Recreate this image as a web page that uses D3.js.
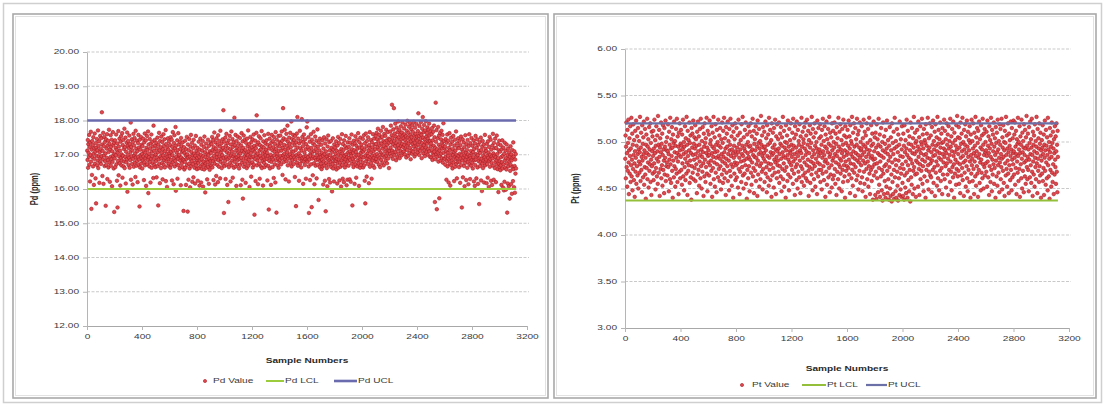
<!DOCTYPE html>
<html>
<head>
<meta charset="utf-8">
<script src="https://cdn.jsdelivr.net/npm/d3@7"></script>
<style>
  html, body { margin: 0; padding: 0; background: #ffffff; }
  svg { display: block; }
  text { font-family: "Liberation Sans", Arial, sans-serif; }
</style>
</head>
<body>
<svg id="chart" width="1105" height="407"></svg>
<script>
// ---- data -------------------------------------------------------------
const sampleTicks = [0, 400, 800, 1200, 1600, 2000, 2400, 2800, 3200];
const pdTicks = [12, 13, 14, 15, 16, 17, 18, 19, 20];
const ptTicks = [3.0, 3.5, 4.0, 4.5, 5.0, 5.5, 6.0];
const sampleStep = 2;          // every second sample number is plotted
const pdLCL = 16.00, pdUCL = 18.00;
const ptLCL = 4.37, ptUCL = 5.20;
const pdSeriesNames = ["Pd Value", "Pd LCL", "Pd UCL"];
const ptSeriesNames = ["Pt Value", "Pt LCL", "Pt UCL"];

// Pd assay results (ppm), one row per 100 sample numbers
const pdValues = [
17.12,16.85,17.43,16.62,17.31,17.05,16.94,17.58,16.71,17.22,16.22,17.36,16.99,17.67,16.80,15.42,17.15,16.41,17.40,16.92,17.28,16.66,17.51,17.03,16.12,17.19,16.88,17.62,16.74,17.09,16.31,17.34,15.58,17.21,16.97,17.46,16.69,17.13,16.83,17.71,16.61,17.26,16.95,17.39,16.18,17.07,16.78,17.55,16.90,17.17,
16.73,17.48,16.96,18.24,17.30,16.38,17.11,16.86,17.64,16.15,17.25,16.98,17.52,16.67,17.37,16.81,17.04,15.51,17.45,16.70,17.18,16.91,17.60,16.29,17.27,16.84,17.41,16.63,17.08,17.73,16.77,17.32,16.21,17.16,16.93,17.57,16.68,17.23,16.87,17.44,16.08,17.10,16.79,17.66,16.97,17.29,16.60,17.35,15.33,17.02,
16.89,17.42,16.64,17.20,16.99,17.59,16.72,17.14,16.24,17.33,15.46,17.06,16.82,17.69,16.40,17.24,16.95,17.47,16.75,17.12,16.10,17.38,16.90,17.54,16.69,17.01,16.83,17.63,16.33,17.28,16.97,17.43,16.66,17.17,16.80,17.76,16.61,17.22,16.93,17.50,16.16,17.09,16.78,17.35,16.87,17.65,15.92,17.26,17.00,17.40,
16.70,17.19,16.91,17.56,16.62,17.31,16.84,17.08,17.94,16.27,17.23,16.96,17.45,16.73,17.13,16.13,17.37,16.88,17.61,16.65,17.27,16.98,17.49,16.77,17.04,16.35,17.70,16.92,17.18,16.68,17.41,16.82,17.10,16.20,17.34,16.94,17.58,16.71,17.21,16.86,15.49,17.44,16.63,17.15,16.99,17.52,16.74,17.29,16.89,17.02,
16.60,17.25,16.83,17.47,16.95,17.11,16.26,17.36,16.78,17.62,16.69,17.06,16.90,17.42,16.09,17.20,16.97,17.55,16.72,17.14,16.85,17.68,15.88,17.30,16.93,17.03,16.66,17.46,16.79,17.19,16.19,17.33,16.88,17.59,16.62,17.09,16.96,17.38,16.75,17.24,16.32,17.85,16.87,17.12,16.70,17.43,16.99,17.27,16.64,17.01,
16.81,17.35,16.34,17.18,16.92,17.50,16.67,17.07,15.52,17.29,16.86,17.64,16.73,17.13,16.17,17.40,16.95,17.22,16.61,17.53,16.89,17.05,16.76,17.37,16.28,17.16,16.98,17.60,16.70,17.26,16.84,17.45,16.63,17.10,16.91,17.72,16.23,17.31,16.80,17.02,16.06,17.20,16.94,17.48,16.68,17.15,16.87,17.39,16.74,17.04,
16.96,17.28,16.62,17.51,16.85,17.09,16.71,17.44,16.25,17.23,16.99,17.66,16.78,17.12,16.14,17.34,16.90,17.57,16.66,17.19,16.82,17.81,15.95,17.27,16.94,17.06,16.72,17.42,16.30,17.14,16.88,17.63,16.69,17.30,16.97,17.00,16.60,17.38,16.83,17.17,16.11,17.49,16.92,17.25,16.75,17.08,16.64,17.36,16.87,17.11,
15.36,16.84,17.22,16.57,17.05,16.79,17.41,16.63,16.98,16.12,17.16,16.88,17.52,16.70,17.01,15.34,17.30,16.92,16.27,17.13,16.74,17.46,16.60,16.95,16.05,17.24,16.86,17.58,16.67,17.08,16.81,17.35,16.21,16.99,16.73,17.19,16.34,17.44,16.90,17.03,16.62,17.27,16.16,16.97,16.78,17.55,16.69,17.11,16.85,16.58,
16.91,17.20,16.24,17.04,16.76,17.38,16.61,16.94,16.10,17.15,16.83,17.47,16.66,17.00,16.19,17.29,16.87,16.59,17.12,16.72,17.40,16.07,16.96,16.80,17.23,16.57,17.53,16.69,17.07,15.90,16.93,16.75,17.33,16.62,17.18,16.85,16.28,17.02,16.78,17.44,16.65,16.99,16.15,17.26,16.88,16.56,17.10,16.71,17.36,16.82,
17.05,16.68,17.31,16.90,17.52,16.63,17.14,16.81,17.43,16.26,17.22,16.97,17.65,16.74,17.09,16.13,17.36,16.86,17.18,16.38,17.48,16.93,17.02,16.70,17.29,16.20,17.57,16.84,17.11,16.65,17.40,16.95,17.24,16.31,17.70,16.79,17.06,16.88,17.33,16.61,17.15,16.99,17.45,16.73,17.20,18.30,16.91,15.30,17.38,16.67,
17.13,16.82,17.50,16.29,17.26,16.94,17.61,16.71,17.07,16.12,17.34,16.87,17.19,15.62,17.42,16.64,17.03,16.92,17.55,16.76,17.16,16.22,17.30,16.98,17.68,16.69,17.10,16.83,17.46,16.33,17.23,16.95,17.37,16.62,17.01,18.08,16.79,17.28,16.89,17.58,16.66,17.12,16.09,17.40,16.93,17.21,16.72,17.53,16.85,17.06,
16.97,17.32,16.60,17.17,16.88,17.49,16.70,17.04,16.11,17.27,16.91,17.63,16.77,17.11,16.27,17.39,15.72,17.20,16.84,17.56,16.65,17.08,16.96,17.44,16.73,17.14,16.18,17.35,16.90,17.02,16.61,17.47,16.80,17.25,16.99,17.71,16.68,17.10,16.86,17.31,16.06,17.18,16.94,17.52,16.75,17.05,16.36,17.37,16.92,17.22,
16.78,17.45,16.63,17.13,16.95,17.59,16.71,17.26,15.25,17.08,16.87,17.41,16.23,17.19,16.98,17.64,18.15,16.69,17.30,16.83,17.03,16.14,17.36,16.92,17.54,16.74,17.12,16.30,17.28,16.97,17.48,16.66,17.16,16.89,17.69,16.61,17.24,16.81,17.05,16.10,17.39,16.94,17.21,16.76,17.57,16.64,17.09,16.86,17.33,16.99,
17.15,16.70,17.42,16.88,17.06,16.25,17.29,16.96,17.61,16.67,15.40,17.18,16.82,17.47,16.60,17.25,16.93,17.00,16.12,17.35,16.79,17.58,16.91,17.13,16.64,17.40,16.86,17.22,16.32,17.52,16.98,17.09,16.72,17.32,16.19,17.66,16.84,17.17,15.31,17.44,16.95,17.04,16.69,17.27,16.89,17.55,16.62,17.11,16.80,17.37,
17.24,16.85,17.56,16.97,17.34,16.72,17.12,17.68,16.90,17.41,16.41,17.20,18.36,16.99,17.48,16.79,17.29,17.03,17.73,16.87,17.15,16.28,17.44,16.94,17.61,16.81,17.26,17.07,17.85,16.69,17.38,16.96,17.18,16.22,17.50,16.89,17.32,17.01,17.64,16.76,17.22,16.93,17.97,16.66,17.10,17.46,16.84,17.35,16.98,17.58,
17.09,16.73,17.43,16.92,17.27,16.35,17.55,16.86,17.14,15.50,17.36,16.99,17.62,16.77,18.10,17.21,16.68,17.47,16.95,17.04,16.24,17.33,16.88,17.70,16.74,17.19,16.97,17.40,16.63,17.12,18.04,16.83,17.52,16.91,17.25,16.15,17.37,16.80,17.59,16.94,17.06,16.70,17.45,16.87,17.16,16.30,17.31,16.96,17.80,16.82,
17.97,16.79,17.23,16.93,17.51,16.66,15.30,17.14,16.86,17.38,16.26,17.02,16.97,17.60,16.72,17.20,15.47,17.44,16.89,17.08,16.40,17.33,16.95,17.67,16.75,17.11,16.14,17.28,16.90,17.53,16.68,17.17,16.84,17.41,16.31,17.05,16.98,17.74,16.71,17.24,16.87,15.68,17.36,16.92,17.13,16.64,17.47,16.81,17.00,16.93,
16.74,17.29,16.58,17.06,16.85,17.42,16.66,16.97,16.13,17.18,16.80,17.51,16.69,17.02,16.24,17.33,16.91,15.35,17.10,16.76,17.45,16.61,16.95,16.08,17.24,16.87,17.56,16.71,17.00,16.29,17.37,16.83,17.13,16.19,16.98,16.78,17.40,16.64,17.20,16.89,15.93,17.08,16.73,17.48,16.60,17.15,16.92,16.22,17.30,16.81,
16.94,17.21,16.67,17.03,16.82,17.39,16.57,17.12,16.88,16.16,17.27,16.75,17.52,16.62,16.99,16.86,17.34,16.25,17.09,16.77,17.46,16.65,16.96,16.07,17.17,16.84,17.60,16.70,17.04,16.30,17.31,16.90,17.14,16.20,17.42,16.79,16.97,16.63,17.25,16.87,17.55,16.72,17.01,16.11,17.19,16.93,16.27,17.36,16.81,17.07,
16.68,17.23,16.91,17.48,16.28,17.10,16.85,17.35,16.21,17.02,16.97,17.59,16.74,17.16,15.52,17.29,16.88,17.05,16.64,17.41,16.80,17.13,16.15,17.33,16.93,17.54,16.71,17.08,16.33,17.26,16.99,17.44,16.66,17.18,16.83,17.63,16.75,17.00,16.09,17.37,16.90,17.21,16.62,17.50,16.86,17.06,16.70,17.30,16.95,17.12,
17.20,16.78,17.46,16.63,17.09,16.92,17.57,16.69,17.15,16.24,17.34,15.58,16.98,17.62,16.81,17.24,16.36,17.40,16.89,17.04,16.73,17.51,16.96,17.13,16.17,17.28,16.86,17.66,16.65,17.19,16.93,17.43,16.76,17.07,16.30,17.36,16.97,17.22,16.84,17.60,16.68,17.11,16.91,17.47,16.62,17.30,16.99,17.16,16.80,17.55,
17.31,16.88,17.64,17.02,17.45,16.79,17.22,17.76,16.95,17.38,16.71,17.14,17.58,16.90,17.27,16.64,17.49,17.06,17.70,16.85,17.33,17.00,17.52,16.76,17.18,17.81,16.98,17.40,16.69,17.25,17.61,16.93,17.36,17.09,17.55,16.82,17.20,17.73,16.97,17.42,16.75,17.29,17.04,17.66,16.89,17.13,17.47,16.61,17.35,17.11,
17.44,17.02,17.68,17.21,17.85,16.96,17.37,17.57,18.46,17.12,17.49,16.88,17.30,17.74,17.06,18.36,17.40,16.99,17.62,17.25,17.91,17.08,17.53,16.84,17.34,17.79,17.16,17.46,16.93,17.66,17.28,17.97,17.03,17.51,17.19,17.72,16.90,17.38,17.59,17.11,17.83,17.26,17.45,16.98,17.65,17.32,17.94,17.07,17.55,17.22,
17.48,17.10,17.77,17.29,17.60,17.01,17.42,17.88,17.18,17.54,16.92,17.36,17.70,17.14,17.99,17.27,17.50,16.97,17.64,17.33,17.82,17.05,17.45,17.93,17.20,17.58,16.87,17.39,17.74,17.12,17.52,17.03,17.86,17.31,17.67,17.09,17.43,17.96,17.24,17.56,16.95,17.35,17.79,17.16,17.61,17.02,17.47,17.90,17.26,17.53,
17.41,17.07,17.69,17.30,18.21,17.15,17.55,16.99,17.84,17.37,17.62,17.11,17.46,17.95,17.23,17.58,16.90,17.34,17.76,17.19,18.10,17.50,17.04,17.66,17.28,17.87,17.13,17.44,16.96,17.71,17.36,17.98,17.21,17.53,17.08,17.63,17.32,17.80,17.00,17.47,17.17,17.73,17.39,17.91,17.10,17.57,16.94,17.40,17.68,17.25,
17.33,16.92,17.60,17.14,17.78,16.85,17.42,17.05,17.67,16.98,17.26,17.85,17.09,17.51,15.62,17.20,16.87,18.52,17.38,17.01,17.72,15.41,17.16,16.94,17.48,17.07,17.81,16.80,17.29,17.56,15.73,17.12,16.96,17.64,17.23,16.83,17.45,17.03,17.70,16.90,17.35,17.18,17.58,16.77,17.27,17.92,17.06,17.40,16.89,17.19,
16.88,17.24,16.71,17.46,16.95,17.10,16.27,17.35,16.82,17.59,16.66,17.05,16.97,17.41,16.19,17.20,16.86,17.63,16.74,17.13,16.10,17.30,16.91,17.50,16.69,17.02,16.83,17.38,16.60,17.17,16.99,17.55,16.77,17.08,16.23,17.27,16.93,17.44,16.65,17.12,16.87,17.68,16.73,17.00,16.31,17.33,16.90,17.21,16.79,17.48,
16.97,17.19,16.64,17.40,16.80,17.03,16.18,17.28,16.89,17.53,16.70,16.99,15.46,17.15,16.83,17.45,16.34,17.09,16.92,17.36,16.67,17.22,16.08,16.98,16.76,17.57,16.85,17.06,16.26,17.31,16.94,17.14,16.62,17.43,16.79,17.01,16.14,17.25,16.87,17.60,16.72,16.96,16.29,17.34,16.90,17.11,16.68,17.49,16.84,17.04,
16.77,17.26,16.60,17.08,16.93,17.42,16.22,17.17,16.84,16.09,17.33,16.70,17.55,16.86,17.02,16.31,17.21,16.96,17.45,16.63,16.99,16.15,17.29,16.81,17.12,15.56,16.90,17.37,16.67,17.05,16.78,17.50,16.25,17.14,16.88,15.94,17.24,16.74,17.40,16.61,16.97,16.83,17.30,16.19,17.07,16.92,17.58,16.69,17.18,16.80,
16.86,17.11,16.17,17.32,16.73,16.98,16.33,17.39,16.91,17.06,16.06,17.23,16.82,17.52,16.65,17.00,16.87,17.44,16.24,17.15,16.76,16.95,16.12,17.27,16.89,17.61,16.68,17.04,16.27,17.35,16.97,17.19,16.61,17.47,16.79,16.93,16.20,17.20,16.84,17.56,16.71,17.02,16.58,17.31,16.90,15.91,17.13,16.74,17.41,16.64,
16.81,17.09,16.55,17.28,16.69,16.93,16.12,17.16,16.78,17.42,16.60,16.97,16.04,17.21,16.72,15.96,17.03,16.21,17.35,16.85,16.62,17.12,15.98,16.90,16.57,17.30,16.75,15.31,16.99,16.16,17.18,16.66,16.88,16.08,17.07,16.80,15.72,16.94,16.53,17.25,16.70,16.14,17.01,16.83,15.86,17.14,16.64,16.92,16.23,17.36,
16.58,16.95,16.05,17.10,16.67,15.89,16.86,16.45,17.02,16.60
];

// Pt assay results (ppm), one row per 100 sample numbers
const ptValues = [
4.82,5.07,4.61,4.95,5.21,4.73,4.88,4.52,5.13,4.69,4.99,5.24,4.78,4.44,4.91,5.04,4.66,4.85,5.17,4.57,4.93,4.75,5.26,4.63,4.81,5.09,4.48,4.97,4.71,5.19,4.86,4.59,5.02,4.77,4.41,4.90,5.12,4.68,4.83,5.23,4.55,4.96,4.74,5.06,4.64,4.87,5.15,4.50,4.92,4.79,
5.01,4.67,4.89,5.27,4.76,4.58,4.94,5.10,4.70,4.84,4.46,5.18,4.80,4.98,4.62,5.05,4.87,5.22,4.54,4.91,4.73,5.14,4.65,4.83,4.39,4.97,5.08,4.72,4.88,5.25,4.60,4.95,4.78,5.03,4.51,4.86,5.16,4.69,4.92,4.76,5.20,4.57,4.99,4.81,4.43,5.11,4.74,4.90,5.06,4.66,
4.85,5.12,4.59,4.93,4.77,5.24,4.68,4.88,5.02,4.49,4.96,4.72,5.17,4.82,4.63,5.07,4.90,4.55,5.28,4.79,4.97,4.67,5.13,4.84,4.42,4.94,5.04,4.71,4.89,5.21,4.61,4.98,4.75,5.09,4.53,4.86,5.18,4.70,4.92,4.80,4.45,5.15,4.65,4.95,4.83,5.23,4.58,5.00,4.74,4.91,
4.78,5.05,4.64,4.90,5.19,4.73,4.87,4.47,5.11,4.81,4.97,4.60,5.26,4.76,4.93,4.56,5.03,4.85,5.16,4.69,4.94,4.40,5.08,4.80,4.99,4.62,5.22,4.74,4.89,5.01,4.52,4.96,4.71,5.14,4.83,4.66,5.25,4.88,4.57,5.06,4.79,4.95,4.44,5.10,4.86,4.68,5.20,4.91,4.61,4.98,
4.84,5.13,4.70,4.96,4.54,5.08,4.77,4.92,5.24,4.63,4.87,5.00,4.48,4.95,4.73,5.17,4.82,4.59,5.04,4.89,4.66,5.27,4.78,4.97,4.43,5.12,4.85,4.69,5.02,4.75,4.91,5.21,4.56,4.99,4.80,5.07,4.62,4.88,4.38,5.15,4.74,4.94,5.09,4.67,4.86,5.23,4.60,4.98,4.81,5.05,
4.72,4.93,5.18,4.58,4.87,5.03,4.76,4.96,4.45,5.11,4.83,4.65,5.22,4.90,4.70,5.06,4.53,4.97,4.79,5.14,4.86,4.61,5.25,4.74,4.92,4.50,5.01,4.84,4.68,5.16,4.89,4.77,4.42,5.09,4.95,4.63,5.20,4.81,4.99,4.57,5.04,4.73,4.88,5.26,4.66,4.94,4.47,5.12,4.85,4.78,
4.91,5.08,4.64,4.86,5.23,4.75,4.98,4.55,5.02,4.80,4.69,5.17,4.88,4.41,4.95,5.10,4.72,4.84,5.27,4.60,4.93,4.78,5.05,4.52,4.89,5.19,4.67,4.97,4.83,4.46,5.13,4.76,4.90,5.00,4.62,5.24,4.85,4.71,4.96,5.07,4.58,4.82,5.15,4.74,4.94,4.49,5.03,4.87,4.65,5.21,
4.79,4.99,4.56,5.12,4.84,4.70,5.26,4.89,4.61,5.04,4.77,4.93,4.43,5.16,4.82,4.67,5.09,4.95,4.74,5.22,4.58,4.87,5.01,4.80,4.48,5.14,4.91,4.69,4.97,5.25,4.63,4.85,4.76,5.06,4.53,4.92,5.18,4.73,4.88,4.40,5.11,4.83,4.96,4.66,5.03,4.78,5.20,4.59,4.90,4.75,
4.86,5.15,4.62,4.94,4.77,5.07,4.51,4.89,5.24,4.71,4.98,4.83,4.44,5.10,4.68,4.92,5.02,4.79,4.57,5.19,4.87,4.73,4.96,5.27,4.64,4.85,4.50,5.05,4.80,4.93,4.66,5.13,4.90,4.75,5.21,4.55,4.97,4.82,4.39,5.08,4.70,4.88,5.00,4.61,5.17,4.84,4.74,4.95,4.47,5.11,
4.81,4.96,5.20,4.67,4.90,4.54,5.06,4.78,4.92,5.25,4.63,4.86,4.72,5.12,4.45,4.98,4.84,5.03,4.69,4.91,5.17,4.58,4.83,4.76,5.09,4.95,4.42,5.23,4.80,4.65,4.99,4.87,5.14,4.52,4.93,4.74,5.01,4.60,4.89,5.28,4.77,4.97,4.68,5.07,4.85,4.49,5.16,4.71,4.94,4.82,
4.88,5.11,4.57,4.95,4.79,5.22,4.66,4.91,5.04,4.73,4.46,5.18,4.85,4.62,4.97,5.08,4.77,4.53,5.26,4.83,4.70,4.99,5.13,4.59,4.89,4.76,5.02,4.41,5.20,4.86,4.64,4.94,5.10,4.72,4.88,4.51,5.15,4.81,4.97,4.67,5.24,4.78,4.92,4.44,5.06,4.84,4.61,5.19,4.90,4.75,
4.80,5.03,4.68,4.93,5.21,4.56,4.87,4.74,5.09,4.98,4.63,5.16,4.82,4.47,4.96,5.05,4.71,4.89,5.27,4.60,4.85,4.77,5.12,4.52,4.94,4.69,5.00,4.83,4.40,5.18,4.91,4.73,4.99,5.07,4.58,4.86,5.23,4.65,4.81,4.95,4.48,5.14,4.78,4.90,5.02,4.62,4.88,5.20,4.75,4.97,
4.84,4.70,5.10,4.92,4.55,5.25,4.79,4.96,4.66,5.04,4.87,4.43,5.17,4.82,4.73,5.08,4.94,4.59,5.22,4.76,4.89,4.50,5.13,4.85,4.68,5.01,4.97,4.62,5.19,4.80,4.91,4.45,5.06,4.74,4.88,5.26,4.57,4.95,4.71,5.11,4.83,4.64,5.03,4.99,4.53,5.16,4.78,4.93,4.67,5.21,
4.86,4.61,5.07,4.90,4.75,5.24,4.58,4.97,4.81,5.12,4.69,4.42,5.02,4.88,4.73,5.18,4.94,4.56,5.09,4.79,4.99,4.65,5.27,4.84,4.71,4.48,5.14,4.91,4.77,5.05,4.60,4.87,5.20,4.74,4.96,4.52,5.10,4.82,4.67,5.00,4.93,4.44,5.23,4.78,4.89,4.63,5.15,4.85,4.70,5.04,
4.92,4.76,5.19,4.57,4.88,5.06,4.70,4.97,4.49,5.13,4.83,4.66,5.25,4.90,4.74,5.01,4.59,4.86,5.17,4.79,4.95,4.41,5.08,4.81,4.68,5.22,4.93,4.54,5.03,4.77,4.89,5.14,4.62,4.98,4.72,5.27,4.84,4.46,5.10,4.87,4.65,4.96,5.05,4.75,4.51,5.20,4.91,4.80,4.60,5.12,
4.83,5.00,4.64,4.94,5.21,4.71,4.87,4.55,5.09,4.78,4.98,4.43,5.16,4.85,4.68,5.04,4.90,4.60,5.26,4.76,4.95,4.50,5.11,4.82,4.73,5.19,4.66,4.92,4.80,5.02,4.47,4.88,5.14,4.70,4.97,4.57,5.24,4.84,4.75,5.07,4.63,4.91,4.40,5.17,4.79,4.99,4.69,5.05,4.86,4.74,
4.89,5.13,4.58,4.96,4.72,5.23,4.81,4.65,5.06,4.93,4.45,5.18,4.77,4.87,5.01,4.61,4.98,5.27,4.70,4.84,4.53,5.10,4.90,4.76,5.20,4.67,4.95,4.82,4.42,5.15,4.73,4.88,5.03,4.59,4.97,5.25,4.80,4.64,5.08,4.86,4.49,5.12,4.78,4.94,4.69,5.21,4.83,4.56,5.00,4.91,
4.75,4.93,5.17,4.62,4.86,4.47,5.04,4.80,4.97,5.24,4.68,4.89,4.55,5.11,4.77,4.95,4.41,5.07,4.84,4.71,5.20,4.92,4.60,4.99,4.79,5.14,4.52,4.87,4.74,5.26,4.66,4.91,4.44,5.02,4.83,4.70,5.18,4.96,4.58,4.85,5.09,4.73,4.38,4.98,4.81,5.22,4.64,4.90,4.76,5.05,
4.82,4.43,5.10,4.68,4.94,4.39,5.19,4.77,4.61,5.03,4.88,4.46,4.97,5.25,4.72,4.54,4.86,5.08,4.41,4.79,4.95,4.63,5.15,4.85,4.48,4.70,5.00,4.37,4.91,5.21,4.66,4.83,4.44,5.06,4.74,4.58,4.98,4.89,4.40,5.13,4.76,4.52,4.93,5.23,4.69,4.45,4.87,5.02,4.60,4.80,
4.38,4.96,4.73,5.16,4.50,4.84,4.42,5.05,4.91,4.65,4.36,5.20,4.78,4.57,4.99,4.44,4.87,5.11,4.70,4.39,4.93,5.26,4.62,4.81,4.47,5.01,4.75,4.40,4.95,5.14,4.68,4.53,4.89,4.37,5.08,4.80,4.61,4.97,4.43,5.22,4.72,4.85,4.49,5.03,4.66,4.41,4.92,5.17,4.76,4.56,
4.84,4.42,5.09,4.71,4.96,4.38,5.18,4.64,4.89,4.51,5.02,4.79,4.45,4.93,5.24,4.67,4.86,4.40,5.12,4.75,4.59,4.98,4.83,4.47,5.06,4.70,4.91,4.36,5.21,4.81,4.62,4.97,4.54,5.15,4.77,4.88,4.44,5.04,4.69,4.94,5.27,4.73,4.50,4.87,5.10,4.65,4.99,4.41,4.80,5.01,
4.90,4.66,5.13,4.78,4.95,4.52,5.22,4.84,4.71,5.05,4.43,4.92,4.76,5.17,4.60,4.88,5.00,4.69,4.97,5.25,4.81,4.55,5.08,4.74,4.93,4.47,5.14,4.86,4.63,5.02,4.79,4.99,4.40,5.19,4.87,4.70,4.96,5.09,4.58,4.83,5.26,4.75,4.91,4.49,5.04,4.68,4.94,5.20,4.82,4.64,
4.77,5.07,4.62,4.89,4.46,5.16,4.80,4.97,4.70,5.23,4.85,4.56,5.01,4.92,4.73,5.11,4.42,4.86,5.19,4.67,4.96,4.79,5.05,4.53,4.90,5.27,4.75,4.61,4.98,5.13,4.83,4.48,5.03,4.88,4.69,5.21,4.94,4.58,4.81,5.09,4.72,4.99,4.44,5.15,4.87,4.65,5.00,4.78,4.93,5.24,
4.84,4.60,5.12,4.91,4.74,5.03,4.51,4.88,5.20,4.77,4.97,4.65,5.08,4.82,4.43,5.17,4.93,4.70,5.01,4.86,4.57,5.25,4.79,4.95,4.68,5.06,4.48,4.90,5.14,4.73,4.99,4.62,5.22,4.85,4.76,4.40,5.10,4.89,4.66,5.02,4.81,4.96,4.54,5.18,4.71,4.92,5.28,4.78,4.63,5.05,
4.87,4.69,5.16,4.55,4.94,5.04,4.76,4.45,5.21,4.83,4.98,4.64,5.09,4.90,4.72,5.26,4.59,4.85,5.00,4.78,4.42,5.13,4.92,4.67,4.97,5.19,4.80,4.52,5.06,4.88,4.74,5.23,4.61,4.95,4.47,5.11,4.84,4.70,5.02,4.91,4.57,5.17,4.79,4.99,4.40,5.08,4.86,4.66,5.24,4.75,
4.82,5.01,4.58,4.93,5.20,4.71,4.88,4.44,5.10,4.79,4.96,4.63,5.27,4.85,4.53,5.05,4.90,4.74,5.15,4.66,4.99,4.41,5.12,4.83,4.70,5.22,4.87,4.56,5.03,4.78,4.94,4.48,5.18,4.81,4.67,5.07,4.92,4.61,5.25,4.76,4.97,4.50,5.09,4.86,4.73,5.14,4.64,4.89,5.00,4.77,
4.91,4.68,5.11,4.85,4.52,5.23,4.79,4.96,4.62,5.06,4.88,4.43,5.17,4.74,4.93,5.02,4.57,4.84,5.26,4.70,4.98,4.47,5.13,4.81,4.65,5.08,4.90,4.76,5.21,4.55,4.95,4.72,5.04,4.86,4.40,5.16,4.80,4.99,4.63,5.10,4.89,4.53,5.24,4.75,4.92,4.67,5.01,4.83,4.46,5.19,
4.78,4.97,5.14,4.60,4.87,4.73,5.25,4.82,4.49,5.05,4.94,4.69,5.18,4.84,4.56,5.00,4.91,4.42,5.12,4.77,4.99,4.64,5.27,4.86,4.71,5.07,4.52,4.93,4.80,5.20,4.66,4.89,4.45,5.09,4.75,4.96,5.02,4.59,4.85,5.22,4.70,4.92,4.48,5.15,4.81,4.62,5.04,4.88,4.76,5.23,
4.90,4.65,5.08,4.83,5.21,4.54,4.95,4.72,5.12,4.87,4.44,5.03,4.79,4.98,4.67,5.26,4.85,4.58,5.00,4.92,4.71,5.17,4.41,4.88,5.06,4.76,4.97,4.61,5.24,4.82,4.50,5.10,4.89,4.69,5.01,4.94,4.46,5.19,4.78,4.86,4.63,5.13,4.93,4.55,5.05,4.80,5.28,4.73,4.96,4.60,
4.84,5.09,4.70,4.92,4.47,5.16,4.81,4.99,4.62,5.22,4.87,4.75,5.03,4.56,4.94,5.25,4.68,4.86,4.42,5.11,4.79,4.97,4.65,5.07,4.90,4.52,5.19,4.83,4.73,5.01,4.60,4.95,5.27,4.77,4.88,4.45,5.14,4.82,4.69,5.04,4.93,4.57,5.20,4.74,4.98,4.64,5.10,4.85,4.40,4.91,
4.80,5.02,4.66,4.94,5.18,4.58,4.87,4.72,5.08,4.43,4.97,4.83,5.23,4.69,4.91,4.54,5.13,4.78,4.96,4.61,5.05,4.86,4.48,5.26,4.75,4.92,4.63,5.00,4.82,4.39,5.15,4.89,4.70,5.07,4.95,4.52,4.84,5.21,4.67,4.99,4.57,5.11,4.76,4.93,4.44,5.03,4.88,4.65,5.17,4.81,
4.73,5.06,4.55,4.90,5.20,4.68,4.97,4.46,5.12,4.84
];

// ---- drawing -----------------------------------------------------------
const SX = 1.35;   // horizontal stretch applied to all lettering
const svg = d3.select("#chart");

const panels = [
  {
    values: pdValues, lcl: pdLCL, ucl: pdUCL, ticks: pdTicks, names: pdSeriesNames,
    yTitle: "Pd (ppm)", box: [13, 14, 535, 384],
    xRange: [87, 527], yRange: [326, 52],
    yTitleX: 35, xTitleY: 361, legendY: 381,
    legend: { dot: 205, valueText: 213, lclLine: [266, 284], lclText: 285, uclLine: [334, 357], uclText: 358 },
    lclColor: "#9ccc3c", uclColor: "#6a6aae", lclWidth: 2, uclWidth: 2.6
  },
  {
    values: ptValues, lcl: ptLCL, ucl: ptUCL, ticks: ptTicks, names: ptSeriesNames,
    yTitle: "Pt (ppm)", box: [554, 14, 542, 384],
    xRange: [625, 1069], yRange: [328, 49],
    yTitleX: 576, xTitleY: 369, legendY: 385,
    legend: { dot: 742, valueText: 752, lclLine: [802, 826], lclText: 827, uclLine: [866, 887], uclText: 888 },
    lclColor: "#93bf3a", uclColor: "#6b70a6", lclWidth: 2, uclWidth: 2.2
  }
];

// outer frame around both charts
svg.append("rect")
  .attr("x", 3.5).attr("y", 3.5).attr("width", 1098).attr("height", 399)
  .attr("fill", "#ffffff").attr("stroke", "#cfcfcf").attr("stroke-width", 1.5);

function label(g, x, y, s, o = {}) {
  return g.append("text")
    .attr("transform", o.rotate
      ? `translate(${x},${y}) rotate(-90) scale(1,${SX})`
      : `translate(${x},${y}) scale(${SX},1)`)
    .attr("text-anchor", o.anchor || "middle")
    .attr("dominant-baseline", "middle")
    .attr("font-size", o.size || 7.5)
    .attr("font-weight", o.weight || "normal")
    .attr("fill", o.fill || "#3a3a3a")
    .text(s);
}

panels.forEach(p => {
  const g = svg.append("g");
  const [bx, by, bw, bh] = p.box;

  // panel frame (slightly shadowed double edge)
  g.append("rect").attr("x", bx).attr("y", by).attr("width", bw).attr("height", bh)
    .attr("fill", "#ffffff").attr("stroke", "#a9a9a9").attr("stroke-width", 1.6);
  g.append("rect").attr("x", bx + 2.5).attr("y", by + 2.5).attr("width", bw - 5).attr("height", bh - 5)
    .attr("fill", "none").attr("stroke", "#e2e2e2").attr("stroke-width", 1);

  const x = d3.scaleLinear().domain([sampleTicks[0], sampleTicks[sampleTicks.length - 1]]).range(p.xRange);
  const y = d3.scaleLinear().domain([p.ticks[0], p.ticks[p.ticks.length - 1]]).range(p.yRange);

  // horizontal gridlines
  g.append("g").selectAll("line").data(p.ticks.slice(1)).join("line")
    .attr("x1", p.xRange[0]).attr("x2", p.xRange[1] + 2)
    .attr("y1", d => y(d)).attr("y2", d => y(d))
    .attr("stroke", "#c9c9c9").attr("stroke-width", 1)
    .attr("stroke-dasharray", "3,1.5");

  // y axis
  const ya = g.append("g").attr("transform", `translate(${p.xRange[0]},0)`)
    .call(d3.axisLeft(y).tickValues(p.ticks).tickSize(4).tickSizeOuter(0).tickFormat(d3.format(".2f")));
  ya.select(".domain").attr("stroke", "#b5b5b5");
  ya.selectAll(".tick line").attr("stroke", "#b5b5b5");
  ya.selectAll(".tick text")
    .attr("x", -8 / SX).attr("dy", null)
    .attr("dominant-baseline", "middle")
    .attr("transform", `scale(${SX},1)`)
    .attr("font-family", "Liberation Sans, Arial, sans-serif")
    .attr("font-size", 7.5).attr("fill", "#3a3a3a");

  // x axis
  const xa = g.append("g").attr("transform", `translate(0,${p.yRange[0]})`)
    .call(d3.axisBottom(x).tickValues(sampleTicks).tickSize(4).tickSizeOuter(0).tickFormat(d3.format("d")));
  xa.select(".domain").attr("stroke", "#a8a8a8").attr("stroke-width", 1.2);
  xa.selectAll(".tick line").attr("stroke", "#b5b5b5");
  xa.selectAll(".tick text")
    .attr("y", 11).attr("dy", null)
    .attr("dominant-baseline", "middle")
    .attr("transform", `scale(${SX},1)`)
    .attr("font-family", "Liberation Sans, Arial, sans-serif")
    .attr("font-size", 7.5).attr("fill", "#3a3a3a");

  // sample points
  const pts = p.values.map((v, i) => ({ s: (i + 1) * sampleStep, v }));
  g.append("g").selectAll("circle").data(pts).join("circle")
    .attr("cx", d => x(d.s)).attr("cy", d => y(d.v)).attr("r", 1.8)
    .attr("fill", "#e2474d").attr("stroke", "#a31c24").attr("stroke-width", 0.6);

  // control limits
  const first = sampleStep, last = pts[pts.length - 1].s;
  g.append("line").attr("x1", x(first)).attr("x2", x(last))
    .attr("y1", y(p.lcl)).attr("y2", y(p.lcl))
    .attr("stroke", p.lclColor).attr("stroke-width", p.lclWidth);
  g.append("line").attr("x1", x(first)).attr("x2", x(last))
    .attr("y1", y(p.ucl)).attr("y2", y(p.ucl))
    .attr("stroke", p.uclColor).attr("stroke-width", p.uclWidth);

  // axis titles
  label(g, (p.xRange[0] + p.xRange[1]) / 2, p.xTitleY, "Sample Numbers", { weight: "bold", fill: "#2a2a2a" });
  label(g, p.yTitleX, (p.yRange[0] + p.yRange[1]) / 2, p.yTitle, { weight: "bold", rotate: true, fill: "#2a2a2a" });

  // legend
  const L = p.legend, ly = p.legendY;
  g.append("circle").attr("cx", L.dot).attr("cy", ly).attr("r", 1.6)
    .attr("fill", "#e2474d").attr("stroke", "#a31c24").attr("stroke-width", 0.6);
  label(g, L.valueText, ly, p.names[0], { anchor: "start" });
  g.append("line").attr("x1", L.lclLine[0]).attr("x2", L.lclLine[1]).attr("y1", ly).attr("y2", ly)
    .attr("stroke", p.lclColor).attr("stroke-width", p.lclWidth);
  label(g, L.lclText, ly, p.names[1], { anchor: "start" });
  g.append("line").attr("x1", L.uclLine[0]).attr("x2", L.uclLine[1]).attr("y1", ly).attr("y2", ly)
    .attr("stroke", p.uclColor).attr("stroke-width", p.uclWidth);
  label(g, L.uclText, ly, p.names[2], { anchor: "start" });
});
</script>
</body>
</html>
